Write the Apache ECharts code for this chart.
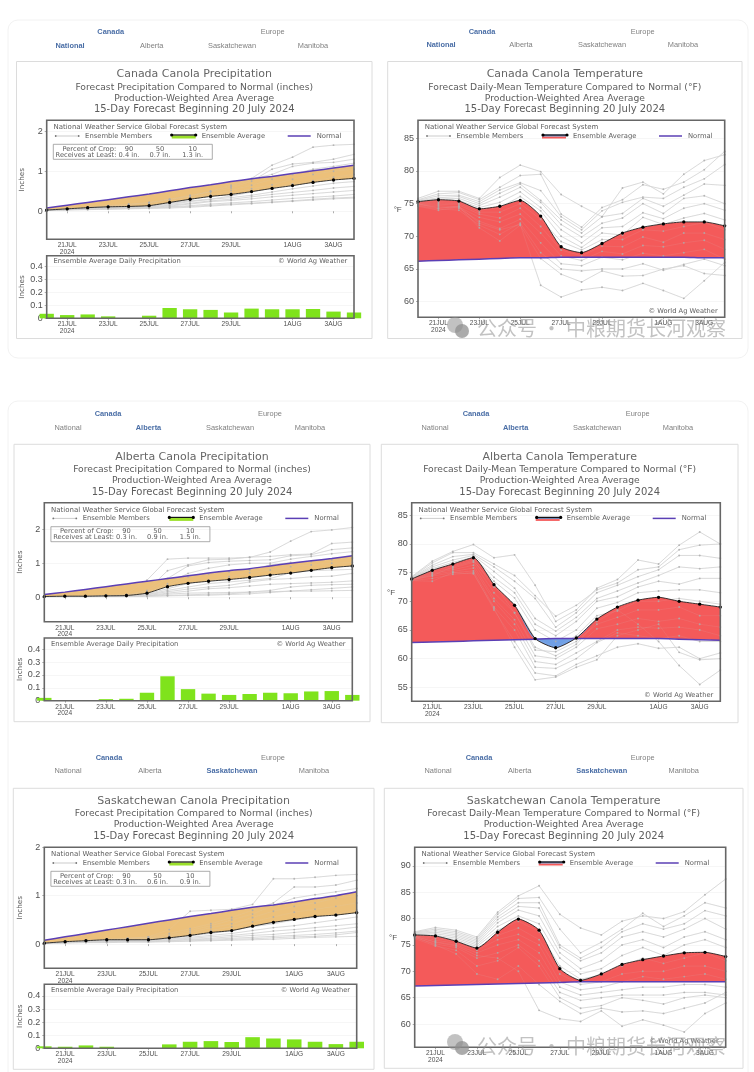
<!DOCTYPE html>
<html><head><meta charset="utf-8">
<style>html,body{margin:0;padding:0;background:#fff}#c{width:754px;height:1072px}#c canvas{filter:blur(.45px)}</style>
<script src="https://cdn.jsdelivr.net/npm/echarts@6/dist/echarts.min.js"></script>
</head><body><div id="c"></div>
<script>
const categories=['20JUL','21JUL','22JUL','23JUL','24JUL','25JUL','26JUL','27JUL','28JUL','29JUL','30JUL','31JUL','1AUG','2AUG','3AUG','4AUG'];
const xTickLabels=['','21JUL\n2024','','23JUL','','25JUL','','27JUL','','29JUL','','','1AUG','','3AUG',''];
const navTop=['Canada','Europe'];
const navSub=['National','Alberta','Saskatchewan','Manitoba'];

const natPrecipAvg=[.03,.06,.09,.11,.12,.14,.22,.30,.37,.42,.49,.57,.64,.72,.78,.82];
const natPrecipNormal=[.08,.15,.22,.29,.36,.43,.51,.59,.66,.74,.81,.87,.94,1.01,1.08,1.15];
const natPrecipDaily=[.035,.025,.03,.015,.002,.02,.08,.07,.065,.045,.075,.07,.07,.072,.052,.045];
const natPrecipMembers=[
[.03,.05,.08,.12,.17,.22,.30,.38,.50,.65,.82,1.15,1.35,1.60,1.65,1.67],
[.03,.06,.10,.14,.18,.22,.30,.40,.48,.58,.75,1.05,1.18,1.22,1.30,1.42],
[.03,.05,.09,.13,.15,.20,.28,.38,.50,.62,.80,.92,1.12,1.20,1.22,1.30],
[.03,.07,.10,.12,.13,.16,.24,.34,.42,.52,.65,.80,.92,1.05,1.12,1.20],
[.03,.06,.09,.11,.12,.14,.20,.30,.38,.46,.56,.66,.80,.92,1.00,1.05],
[.03,.05,.07,.09,.10,.13,.20,.26,.30,.38,.48,.58,.68,.76,.85,.92],
[.03,.05,.07,.09,.11,.13,.17,.24,.30,.34,.40,.48,.56,.63,.70,.74],
[.03,.04,.06,.08,.09,.11,.15,.20,.26,.30,.36,.42,.47,.52,.58,.62],
[.03,.04,.06,.07,.08,.10,.13,.18,.24,.27,.31,.36,.40,.44,.48,.52],
[.03,.04,.05,.06,.07,.09,.11,.14,.18,.21,.24,.28,.32,.35,.38,.42],
[.03,.04,.05,.06,.07,.08,.10,.12,.15,.18,.20,.23,.26,.30,.33,.35],
[.03,.03,.04,.05,.06,.07,.08,.10,.13,.16,.19,.22,.25,.28,.31,.33]];

const natTempAvg=[75.3,75.6,75.4,74.2,74.6,75.5,73.1,68.4,67.5,68.9,70.5,71.4,71.9,72.2,72.2,71.6];
const natTempNormal=[66.2,66.3,66.4,66.5,66.6,66.7,66.7,66.8,66.8,66.8,66.8,66.8,66.8,66.8,66.7,66.7];
const natTempMembers=[
[75.8,76.9,76.9,75.8,79.0,80.9,79.9,76.4,74.6,73.0,77.4,78.3,76.5,79.5,81.6,82.5],
[75.6,76.5,76.7,75.6,77.5,79.3,79.5,73.4,71.4,74.4,75.6,77.9,77.2,78.3,80.2,83.0],
[75.5,76.2,76.3,75.3,77.1,78.2,77.0,73.0,71.0,73.9,75.2,76.0,75.8,77.5,78.8,81.0],
[75.4,75.9,76.1,75.0,76.6,78.0,75.5,72.5,70.5,73.0,73.5,75.8,74.6,76.3,78.0,77.8],
[75.3,75.7,75.8,74.7,76.0,77.5,75.2,71.8,69.9,72.0,72.8,75.0,73.5,75.8,76.2,75.0],
[75.3,75.5,75.5,74.4,75.2,76.8,74.4,71.0,69.0,71.3,71.5,73.6,72.7,74.3,75.0,74.0],
[75.2,75.3,75.2,74.0,74.4,76.1,73.9,70.0,68.3,70.5,70.2,72.9,71.8,72.8,73.5,72.5],
[75.1,75.1,75.0,73.7,73.7,75.0,72.6,69.2,67.9,69.5,69.5,71.0,70.8,71.5,72.1,71.0],
[75.0,74.9,74.8,73.4,72.8,74.3,71.5,67.9,67.0,68.5,68.4,69.9,69.1,70.5,70.5,69.5],
[74.9,74.7,74.5,72.9,72.2,73.4,70.5,67.0,66.3,67.7,67.3,68.6,68.4,69.0,69.4,68.0],
[74.8,74.5,74.3,72.3,71.2,72.6,69.0,65.8,65.5,66.8,66.4,67.4,67.0,67.5,68.0,66.5],
[74.7,74.2,74.0,71.7,70.3,72.0,67.5,65.0,64.7,65.0,65.0,65.8,64.8,65.7,66.5,65.5],
[74.6,74.0,74.5,71.3,69.3,71.7,66.6,64.2,63.0,64.7,63.9,64.0,65.0,65.5,64.3,64.0],
[75.0,74.3,74.6,72.0,71.0,71.8,62.5,60.7,61.8,62.2,61.7,62.8,61.7,60.5,63.2,66.0]];

const abPrecipAvg=[.02,.03,.03,.04,.05,.12,.31,.41,.47,.52,.58,.65,.71,.79,.87,.92];
const abPrecipNormal=[.08,.15,.23,.31,.39,.47,.55,.63,.71,.78,.84,.92,1.0,1.07,1.14,1.22];
const abPrecipDaily=[.022,.005,.002,.012,.015,.062,.19,.09,.055,.045,.052,.062,.058,.072,.075,.045];
const abPrecipMembers=[
[.02,.02,.03,.05,.08,.50,1.12,1.15,1.15,1.15,1.17,1.33,1.65,1.93,1.98,2.05],
[.02,.03,.04,.05,.07,.20,.78,.95,1.10,1.12,1.18,1.20,1.25,1.27,1.58,1.62],
[.02,.03,.03,.05,.06,.18,.55,.92,1.02,1.06,1.08,1.10,1.22,1.25,1.40,1.45],
[.02,.03,.03,.04,.06,.14,.40,.70,.85,.95,1.00,1.00,1.12,1.20,1.28,1.34],
[.02,.02,.03,.04,.05,.13,.35,.60,.68,.75,.80,.95,1.02,1.05,1.10,1.15],
[.02,.02,.03,.04,.05,.10,.25,.40,.50,.60,.72,.80,.90,.95,1.00,1.02],
[.02,.02,.02,.03,.04,.08,.20,.30,.40,.45,.50,.55,.72,.78,.80,.82],
[.02,.02,.02,.03,.04,.07,.16,.24,.30,.35,.45,.52,.55,.60,.62,.70],
[.02,.02,.02,.03,.03,.05,.12,.18,.25,.28,.33,.38,.40,.42,.44,.48],
[.02,.02,.02,.02,.03,.04,.09,.12,.13,.14,.15,.16,.18,.18,.19,.20],
[.02,.02,.02,.02,.02,.03,.05,.07,.09,.10,.15,.20,.30,.35,.37,.38],
[.02,.02,.02,.02,.02,.03,.04,.05,.06,.08,.10,.14,.18,.22,.26,.30]];

const abTempAvg=[73.9,75.4,76.5,77.6,72.9,69.3,63.5,61.9,63.6,66.9,69.0,70.2,70.7,70.0,69.5,69.0];
const abTempNormal=[62.8,62.9,63.0,63.1,63.2,63.3,63.4,63.5,63.5,63.5,63.5,63.5,63.5,63.4,63.3,63.2];
const abTempMembers=[
[74.3,77.0,78.7,79.9,77.6,78.1,72.8,66.5,68.5,72.3,73.8,77.2,76.5,79.8,82.1,80.0],
[74.2,76.7,78.5,78.5,76.5,74.5,71.0,67.4,69.3,72.0,73.2,75.5,76.0,79.0,79.8,80.0],
[74.1,76.3,77.8,78.2,76.0,73.5,70.5,65.5,68.0,71.5,72.8,74.3,75.5,78.0,78.0,77.5],
[74.0,76.0,77.2,78.0,75.2,72.3,67.0,64.8,67.2,70.5,71.8,73.2,74.5,76.0,75.7,76.0],
[74.0,75.7,76.8,77.7,74.2,71.5,66.0,64.0,66.5,70.0,70.8,72.5,73.5,73.0,74.0,74.0],
[73.9,75.5,76.5,77.5,73.5,70.6,65.0,63.0,65.0,68.8,69.8,71.5,71.8,72.0,72.0,71.5],
[73.9,75.3,76.2,77.2,72.5,69.5,63.5,62.0,64.0,67.5,68.3,70.0,70.0,70.5,70.0,69.5],
[73.8,75.1,75.8,76.8,71.5,68.0,61.5,61.2,63.0,66.0,67.2,68.5,68.5,69.0,67.5,67.5],
[73.8,74.9,75.5,76.3,70.5,66.8,60.5,60.0,62.0,65.2,66.0,67.0,66.5,67.0,66.0,65.5],
[73.7,74.7,75.2,75.8,70.0,66.0,59.5,59.0,61.0,63.0,65.0,65.5,65.3,65.5,65.0,64.0],
[73.7,74.4,75.0,75.3,69.0,65.0,58.5,58.3,60.0,62.8,64.5,64.0,63.5,64.0,63.0,63.0],
[73.6,74.0,74.7,75.0,68.5,63.0,57.5,57.0,59.0,60.5,62.0,62.6,61.8,62.0,60.0,61.0],
[73.6,73.5,75.0,74.8,68.8,62.0,56.3,56.8,58.5,59.8,64.0,65.0,66.0,61.1,59.8,60.0],
[73.8,74.5,76.0,77.0,73.0,68.0,62.0,60.5,62.5,66.5,68.5,66.0,63.0,58.8,55.5,58.0]];

const skPrecipAvg=[.02,.05,.07,.09,.09,.09,.13,.18,.24,.28,.37,.45,.51,.57,.60,.65];
const skPrecipNormal=[.08,.15,.22,.29,.36,.43,.50,.57,.63,.70,.76,.81,.87,.94,1.0,1.08];
const skPrecipDaily=[.015,.012,.022,.012,.002,.002,.03,.05,.055,.048,.085,.075,.068,.05,.032,.05];
const skPrecipMembers=[
[.02,.05,.08,.10,.12,.15,.30,.68,.70,.72,.82,1.35,1.35,1.38,1.42,1.44],
[.02,.05,.07,.10,.12,.15,.22,.32,.42,.55,.70,.85,1.18,1.18,1.22,1.32],
[.02,.05,.07,.09,.11,.13,.18,.28,.38,.50,.62,.80,.95,1.02,1.08,1.15],
[.02,.04,.06,.08,.10,.12,.16,.24,.34,.42,.55,.68,.78,.85,.95,1.00],
[.02,.04,.06,.08,.09,.11,.14,.20,.28,.36,.46,.56,.66,.72,.78,.85],
[.02,.04,.06,.07,.08,.10,.12,.17,.22,.28,.36,.42,.50,.56,.62,.70],
[.02,.04,.05,.07,.08,.09,.11,.14,.18,.22,.28,.34,.38,.44,.50,.56],
[.02,.03,.05,.06,.07,.08,.10,.12,.15,.18,.22,.27,.30,.34,.38,.42],
[.02,.03,.04,.05,.06,.07,.08,.10,.12,.15,.18,.20,.24,.28,.30,.35],
[.02,.03,.04,.05,.06,.06,.07,.09,.10,.12,.14,.16,.18,.20,.23,.27],
[.02,.03,.04,.04,.05,.05,.06,.07,.08,.10,.11,.13,.15,.16,.19,.24],
[.01,.02,.03,.03,.04,.04,.05,.06,.07,.08,.09,.10,.12,.14,.15,.16]];

const skTempAvg=[76.9,76.7,75.7,74.4,77.4,79.9,77.8,70.5,68.3,69.5,71.3,72.2,72.9,73.5,73.6,72.8];
const skTempNormal=[67.2,67.3,67.4,67.5,67.6,67.7,67.8,67.9,68.0,68.0,68.0,68.0,68.0,68.0,68.0,68.0];
const skTempMembers=[
[77.5,78.3,77.8,76.5,81.2,84.3,86.2,80.8,78.2,76.9,79.5,80.5,80.0,81.3,84.5,87.5],
[77.4,78.0,77.5,76.2,80.8,83.8,84.0,78.0,73.5,75.5,78.0,81.0,78.5,80.5,83.0,82.0],
[77.3,77.7,77.2,75.9,80.3,83.0,83.0,75.0,72.5,74.5,77.5,79.0,78.0,79.0,81.5,80.5],
[77.2,77.4,76.9,75.6,79.8,82.3,82.0,74.5,72.0,73.5,76.5,77.5,76.5,78.0,80.0,78.0],
[77.1,77.1,76.6,75.3,79.2,81.6,80.5,73.5,70.5,72.0,75.0,76.0,74.5,76.5,77.5,76.0],
[77.0,76.8,76.3,75.0,78.5,80.5,79.0,72.5,69.5,70.5,73.0,74.5,73.0,75.0,76.0,74.5],
[76.9,76.5,76.0,74.7,77.8,79.5,77.5,71.0,68.5,69.3,71.0,72.5,71.5,72.5,73.5,72.0],
[76.8,76.2,75.7,74.4,76.8,78.2,76.0,69.5,67.5,68.0,69.5,70.0,70.0,71.0,71.0,70.0],
[76.7,75.9,75.3,74.0,76.0,77.0,75.0,68.0,66.5,67.0,68.0,69.0,68.5,69.0,69.5,68.5],
[76.6,75.6,75.0,73.5,75.0,76.0,73.5,67.0,65.5,66.0,66.5,67.0,67.0,67.5,67.5,67.0],
[76.4,75.2,74.5,72.5,73.5,75.0,72.0,66.0,64.5,65.0,65.5,65.5,65.5,66.0,66.0,65.5],
[76.2,74.8,74.0,71.0,72.0,74.5,71.0,65.0,63.0,63.5,65.0,64.5,63.8,65.0,65.5,65.0],
[76.5,75.0,73.3,69.5,68.5,71.0,67.5,64.3,62.0,63.0,62.3,62.5,62.0,63.0,64.0,66.0],
[76.6,75.5,74.8,73.0,72.5,70.0,62.6,61.0,60.5,62.5,59.6,60.8,59.8,58.5,62.0,64.0]];

const precipTicks=[0,1,2];
const dailyTicks=[0,.1,.2,.3,.4];
const COLORS={member:'#d6d6d6',memberDot:'#adadad',normal:'#5b3fb5',orange:'#ecc07a',red:'#f45a5a',blue:'#6f9fe6',lime:'#7fe31c',frame:'#666',text:'#5c5c5c',axis:'#505050',navBlue:'#4a6ea6',navGray:'#808080'};
const FONT='DejaVu Sans', AFONT='Liberation Sans';

const panels=[
{kind:'precip',title:'Canada Canola Precipitation',sub:'Forecast Precipitation Compared to Normal (inches)',active:0,
 nav:{yTop:32.3,ySub:45.7,top:[110.7,272.7],sub:[70,151.7,232,313]},box:[16.5,61.5,372,338.5],
 plot:[46.7,120.3,354,239.3],yr:[-.70,2.27],ticks:precipTicks,bar:[255.7,318.3,.485],
 avg:natPrecipAvg,normal:natPrecipNormal,daily:natPrecipDaily,members:natPrecipMembers,crop:['0.4 in.','0.7 in.','1.3 in.']},
{kind:'temp',title:'Canada Canola Temperature',sub:'Forecast Daily-Mean Temperature Compared to Normal (°F)',active:0,
 nav:{yTop:32,ySub:45.3,top:[482,642.7],sub:[441,521,602,683]},box:[387.7,61.5,742,338.5],
 plot:[418,120.3,724.7,317.3],yr:[57.6,87.76],ticks:[60,65,70,75,80,85],fy:210,fx:397.7,
 avg:natTempAvg,normal:natTempNormal,members:natTempMembers},
{kind:'precip',title:'Alberta Canola Precipitation',sub:'Forecast Precipitation Compared to Normal (inches)',active:1,
 nav:{yTop:414.3,ySub:428,top:[108,270],sub:[68,148.5,230,310]},box:[14,444.3,370,721.7],
 plot:[44.3,502.7,352.3,621.7],yr:[-.72,2.78],ticks:precipTicks,bar:[638,700.7,.488],
 avg:abPrecipAvg,normal:abPrecipNormal,daily:abPrecipDaily,members:abPrecipMembers,crop:['0.3 in.','0.9 in.','1.5 in.']},
{kind:'temp',title:'Alberta Canola Temperature',sub:'Forecast Daily-Mean Temperature Compared to Normal (°F)',active:1,
 nav:{yTop:414.3,ySub:428,top:[476,637.7],sub:[435,515.7,597,678]},box:[381.3,444.3,738,722.7],
 plot:[411.7,502.7,720.3,701.3],yr:[52.56,87.2],ticks:[55,60,65,70,75,80,85],fy:593,fx:391,
 avg:abTempAvg,normal:abTempNormal,members:abTempMembers},
{kind:'precip',title:'Saskatchewan Canola Precipitation',sub:'Forecast Precipitation Compared to Normal (inches)',active:2,
 nav:{yTop:757.7,ySub:771.3,top:[109,273],sub:[68,150,232,314]},box:[13.3,788.3,374,1069.3],
 plot:[44.3,847.3,356.7,968.3],yr:[-.5,2],ticks:precipTicks,bar:[984.3,1048.3,.489],
 avg:skPrecipAvg,normal:skPrecipNormal,daily:skPrecipDaily,members:skPrecipMembers,crop:['0.3 in.','0.6 in.','0.9 in.']},
{kind:'temp',title:'Saskatchewan Canola Temperature',sub:'Forecast Daily-Mean Temperature Compared to Normal (°F)',active:2,
 nav:{yTop:757.7,ySub:771.3,top:[479,642.7],sub:[438,519.7,601.7,683.7]},box:[384.3,788.3,743,1068.3],
 plot:[414.7,847.3,725.7,1047.3],yr:[55.6,93.5],ticks:[60,65,70,75,80,85,90],fy:938,fx:393,
 avg:skTempAvg,normal:skTempNormal,members:skTempMembers}
];
const cards=[[8,20,740,338],[8,401,740,700]];
const watermarks=[{x:477,y:328,ix:456,iy:328},{x:477,y:1046,ix:456,iy:1045}];
const wmText='公众号 · 中粮期货长河观察';

const grid=[],xAxis=[],yAxis=[],series=[],gfx=[];
function txt(x,y,text,size,o={}){gfx.push({type:'text',x,y,z:o.z??100,silent:true,style:{text,fontFamily:o.font||FONT,fontSize:size,fontWeight:o.weight||'normal',fill:o.fill||COLORS.text,align:o.align||'center',verticalAlign:'middle',opacity:o.opacity??1}});}
function rect(x,y,w,h,o){gfx.push({type:'rect',z:o.z??100,silent:true,shape:{x,y,width:w,height:h,r:o.r||0},style:{fill:o.fill||'none',stroke:o.stroke||null,lineWidth:o.lw||1}});}
function hline(x1,x2,y,stroke,lw){gfx.push({type:'line',z:101,silent:true,shape:{x1,y1:y,x2,y2:y},style:{stroke,lineWidth:lw}});}
function dot(x,y,r,fill,z=102,op=1){gfx.push({type:'circle',z,silent:true,shape:{cx:x,cy:y,r},style:{fill,opacity:op}});}

function addGrid(l,t,r,b,ymin,ymax,ticks,o={}){
 const i=grid.length;
 grid.push({left:l,top:t,width:r-l,height:b-t,show:true,backgroundColor:'transparent',borderColor:COLORS.frame,borderWidth:1.6,z:8});
 const lab={fontFamily:AFONT,fontSize:6.6,color:COLORS.axis,lineHeight:6.5,margin:3,interval:0,hideOverlap:false,formatter:(v,k)=>xTickLabels[k]};
 xAxis.push({type:'category',gridIndex:i,data:categories,boundaryGap:false,axisLine:{show:false},axisLabel:lab,
  axisTick:{show:true,length:2,lineStyle:{color:'#777',width:.6},interval:k=>xTickLabels[k]!==''},splitLine:{show:false}});
 yAxis.push({type:'value',gridIndex:i,min:ymin,max:ymax,axisLine:{show:false},
  axisLabel:{customValues:ticks,fontFamily:AFONT,fontSize:9,color:COLORS.axis,margin:4},
  axisTick:{show:true,customValues:ticks,length:2,lineStyle:{color:'#777',width:.6}},
  splitLine:{show:true,lineStyle:{color:'#f2f2f2',width:.7}},
  name:o.name||'',nameLocation:'middle',nameRotate:90,nameGap:o.gap||21,nameTextStyle:{fontFamily:FONT,fontSize:7.2,color:COLORS.text}});
 return i;
}
function addMain(p,gi,id){
 const base=p.avg.map((v,k)=>Math.min(v,p.normal[k]));
 const common={type:'line',xAxisIndex:gi,yAxisIndex:gi,symbol:'none',stack:'band'+id,stackStrategy:'all',smooth:.2,lineStyle:{width:0},silent:true,z:2};
 series.push({...common,name:'base',data:base});
 const above=p.avg.map((v,k)=>Math.max(v-p.normal[k],0));
 const below=p.avg.map((v,k)=>Math.max(p.normal[k]-v,0));
 series.push({...common,name:'above',data:above,areaStyle:{color:COLORS.red,opacity:1}});
 series.push({...common,name:'below',data:below,areaStyle:{color:p.kind==='precip'?COLORS.orange:COLORS.blue,opacity:1}});
 p.members.forEach((m,k)=>{
  series.push({type:'line',name:'member line '+(k+1),xAxisIndex:gi,yAxisIndex:gi,data:m,symbol:'none',silent:true,z:1,lineStyle:{color:COLORS.member,width:.85}});
  series.push({type:'line',name:'member '+(k+1),xAxisIndex:gi,yAxisIndex:gi,data:m,symbol:'circle',symbolSize:1.9,showSymbol:true,silent:true,z:4,
   lineStyle:{color:COLORS.member,width:.7,opacity:.16},itemStyle:{color:COLORS.memberDot,opacity:.85}});
 });
 series.push({type:'line',name:'Normal',xAxisIndex:gi,yAxisIndex:gi,data:p.normal,symbol:'none',smooth:.2,silent:true,z:5,lineStyle:{color:COLORS.normal,width:1.5}});
 series.push({type:'line',name:'Ensemble Average',xAxisIndex:gi,yAxisIndex:gi,data:p.avg,symbol:'circle',symbolSize:3.3,showSymbol:true,smooth:.2,silent:true,z:6,lineStyle:{color:'#222',width:.9},itemStyle:{color:'#000'}});
}

cards.forEach(c=>rect(c[0],c[1],c[2],c[3],{z:-20,r:10,fill:'#fff',stroke:'#f2f2f2',lw:1}));
panels.forEach((p,i)=>{
 const [L,T,R,B]=p.plot, cx=(p.box[0]+p.box[2])/2;
 rect(p.box[0],p.box[1],p.box[2]-p.box[0],p.box[3]-p.box[1],{z:-10,fill:'#fff',stroke:'#dcdcdc',lw:1});
 navTop.forEach((t,k)=>txt(p.nav.top[k],p.nav.yTop,t,7.4,{font:AFONT,weight:k===0?'bold':'normal',fill:k===0?COLORS.navBlue:COLORS.navGray}));
 navSub.forEach((t,k)=>txt(p.nav.sub[k],p.nav.ySub,t,7.4,{font:AFONT,weight:k===p.active?'bold':'normal',fill:k===p.active?COLORS.navBlue:COLORS.navGray}));
 const ty=p.box[1];
 txt(cx,ty+12.8,p.title,11,{fill:'#666'});
 txt(cx,ty+25.8,p.sub,9.2);
 txt(cx,ty+36.8,'Production-Weighted Area Average',9.2);
 txt(cx,ty+48.2,'15-Day Forecast Beginning 20 July 2024',10);
 const gi=addGrid(L,T,R,B,p.yr[0],p.yr[1],p.ticks,{name:p.kind==='precip'?'Inches':''});
 addMain(p,gi,i);
 txt(L+6.7,T+7,'National Weather Service Global Forecast System',7,{align:'left'});
 const ly=T+15.7;
 hline(L+9,L+32,ly,'#aaa',.6);dot(L+9,ly,.9,'#777');dot(L+32,ly,.9,'#777');
 txt(L+38.4,ly,'Ensemble Members',6.8,{align:'left'});
 if(p.kind==='precip'){rect(L+125,ly-.5,24,3,{fill:'#9be02a',z:100});}
 else{rect(L+124,ly-1.5,24,2.2,{fill:'#6f86b8',z:100});rect(L+124,ly+.7,24,1.8,{fill:COLORS.red,z:100});}
 hline(L+125,L+149,ly-1,'#111',1.2);dot(L+125,ly-1,1.6,'#000');dot(L+149,ly-1,1.6,'#000');
 txt(L+155,ly,'Ensemble Average',6.8,{align:'left'});
 hline(L+241,L+264,ly,COLORS.normal,1.5);
 txt(L+270,ly,'Normal',6.8,{align:'left'});
 if(p.kind==='precip'){
  rect(L+6.6,T+24,159,15,{stroke:'#8a8a8a',lw:.7,z:100});
  txt(L+42.6,T+28.7,'Percent of Crop:',6.7);txt(L+39.3,T+34.7,'Receives at Least:',6.7);
  ['90','50','10'].forEach((v,k)=>{const x=L+[82.3,113.3,146][k];txt(x,T+28.7,v,6.7);txt(x,T+34.7,p.crop[k],6.7);});
  const [bt,bb,bm]=p.bar;
  const g2=addGrid(L,bt,R,bb,0,bm,dailyTicks,{name:'Inches'});
  series.push({type:'bar',name:'Daily Precipitation',xAxisIndex:g2,yAxisIndex:g2,data:p.daily,barWidth:'70%',silent:true,itemStyle:{color:COLORS.lime},z:3});
  txt(L+6.7,bt+6,'Ensemble Average Daily Precipitation',6.8,{align:'left'});
  txt(R-6.7,bt+6,'© World Ag Weather',6.7,{align:'right'});
 }else{
  txt(p.fx,p.fy,'°F',8,{font:AFONT,fill:COLORS.axis});
  txt(R-7,B-6,'© World Ag Weather',6.7,{align:'right'});
 }
});
watermarks.forEach(w=>{
 dot(w.ix-1,w.iy-3,8,'#8f8f8f',120,.55);dot(w.ix+6,w.iy+3,7,'#8f8f8f',120,.75);
 txt(w.x,w.y,wmText,20,{align:'left',font:'Noto Sans CJK SC',fill:'#909090',opacity:.55,z:120});
});

const chart=echarts.init(document.getElementById('c'),null,{width:754,height:1072,renderer:'canvas'});
chart.setOption({animation:false,backgroundColor:'#fff',tooltip:{show:false},grid,xAxis,yAxis,series,graphic:{elements:gfx}});
</script></body></html>
